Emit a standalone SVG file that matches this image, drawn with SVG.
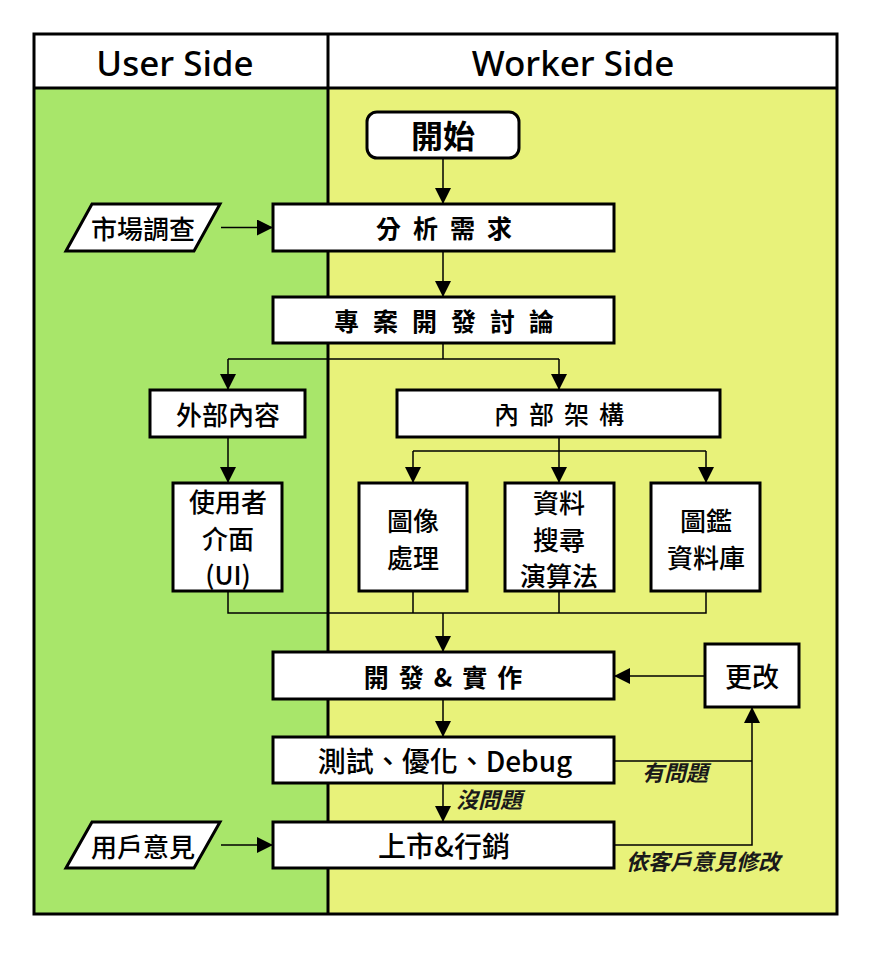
<svg xmlns="http://www.w3.org/2000/svg" width="872" height="960" viewBox="0 0 872 960">
<style>
.box{fill:#fff;stroke:#000;stroke-width:3}
.t{font-family:"Noto Sans CJK TC","Noto Sans",sans-serif;font-weight:500;fill:#000;text-anchor:middle;dominant-baseline:central}
.b{font-weight:700}
.h{font-family:"Noto Sans","Noto Sans CJK TC",sans-serif;font-size:35px;font-weight:500;fill:#000;text-anchor:middle;dominant-baseline:central}
.lbl{font-family:"Noto Sans CJK TC",sans-serif;font-size:22px;font-weight:700;font-style:italic;fill:#1a1a1a;text-anchor:middle}
.c{fill:none;stroke:#000;stroke-width:1.5}
</style>
<defs>
<marker id="ah" markerUnits="userSpaceOnUse" markerWidth="16" markerHeight="16" refX="16" refY="8" orient="auto">
<path d="M0,0 L16,8 L0,16 z" fill="#000"/>
</marker>
</defs>
<rect x="0" y="0" width="872" height="960" fill="#fff"/>
<g id="lanes">
<rect x="34" y="34" width="803" height="54" fill="#fff"/>
<rect x="34" y="88" width="294" height="826" fill="#a8e66a"/>
<rect x="328" y="88" width="509" height="826" fill="#e8f27a"/>
<rect x="34" y="34" width="803" height="880" fill="none" stroke="#000" stroke-width="3"/>
<line x1="34" y1="88" x2="837" y2="88" stroke="#000" stroke-width="3"/>
<line x1="328" y1="34" x2="328" y2="914" stroke="#000" stroke-width="3"/>
<text class="h" x="175" y="62">User Side</text>
<text class="h" x="573" y="62">Worker Side</text>
</g>
<g id="connectors">
<path class="c" d="M443 158 V204" marker-end="url(#ah)"/>
<path class="c" d="M221 227.5 H273" marker-end="url(#ah)"/>
<path class="c" d="M443 251 V297" marker-end="url(#ah)"/>
<path class="c" d="M443 343 V359"/>
<path class="c" d="M228 359 H559"/>
<path class="c" d="M228 359 V390" marker-end="url(#ah)"/>
<path class="c" d="M559 359 V390" marker-end="url(#ah)"/>
<path class="c" d="M228 437 V483" marker-end="url(#ah)"/>
<path class="c" d="M559 437 V483" marker-end="url(#ah)"/>
<path class="c" d="M413 451 H706"/>
<path class="c" d="M413 451 V483" marker-end="url(#ah)"/>
<path class="c" d="M706 451 V483" marker-end="url(#ah)"/>
<path class="c" d="M228 591 V613 H706 V591"/>
<path class="c" d="M413 591 V613"/>
<path class="c" d="M559 591 V613"/>
<path class="c" d="M443 613 V652" marker-end="url(#ah)"/>
<path class="c" d="M705 676 H614" marker-end="url(#ah)"/>
<path class="c" d="M443 699 V737" marker-end="url(#ah)"/>
<path class="c" d="M443 783 V822" marker-end="url(#ah)"/>
<path class="c" d="M614 761 H752"/>
<path class="c" d="M614 845 H752 V707" marker-end="url(#ah)"/>
<path class="c" d="M221 845 H273" marker-end="url(#ah)"/>
<text class="lbl" x="675" y="781">有問題</text>
<text class="lbl" x="489" y="808">沒問題</text>
<text class="lbl" x="703" y="870">依客戶意見修改</text>
</g>
<g id="start">
<rect class="box" x="367" y="112" width="152" height="46" rx="10"/>
<text class="t b" x="443" y="134" font-size="32">開始</text>
</g>
<g id="market">
<polygon class="box" points="66,251 92,204 220,204 194,251"/>
<text class="t" x="143" y="227" font-size="26">市場調查</text>
</g>
<g id="analyze">
<rect class="box" x="273" y="204" width="341" height="47"/>
<text class="t b" x="450" y="227" font-size="25" letter-spacing="12">分析需求</text>
</g>
<g id="discuss">
<rect class="box" x="273" y="297" width="341" height="46"/>
<text class="t b" x="451" y="320" font-size="25" letter-spacing="14">專案開發討論</text>
</g>
<g id="external">
<rect class="box" x="150" y="390" width="155" height="47"/>
<text class="t" x="228" y="413" font-size="26">外部內容</text>
</g>
<g id="internal">
<rect class="box" x="397" y="390" width="323" height="47"/>
<text class="t" x="564" y="413" font-size="25" letter-spacing="10">內部架構</text>
</g>
<g id="ui">
<rect class="box" x="173" y="483" width="109" height="108"/>
<text class="t" x="228" y="500" font-size="26">使用者</text>
<text class="t" x="228" y="537" font-size="26">介面</text>
<text class="t" x="228" y="573" font-size="26">(UI)</text>
</g>
<g id="image">
<rect class="box" x="359" y="483" width="108" height="108"/>
<text class="t" x="413" y="519" font-size="26">圖像</text>
<text class="t" x="413" y="556" font-size="26">處理</text>
</g>
<g id="search">
<rect class="box" x="505" y="483" width="109" height="108"/>
<text class="t" x="559" y="501" font-size="26">資料</text>
<text class="t" x="559" y="538" font-size="26">搜尋</text>
<text class="t" x="559" y="574" font-size="26">演算法</text>
</g>
<g id="database">
<rect class="box" x="651" y="483" width="109" height="108"/>
<text class="t" x="706" y="519" font-size="26">圖鑑</text>
<text class="t" x="706" y="556" font-size="26">資料庫</text>
</g>
<g id="develop">
<rect class="box" x="273" y="652" width="341" height="47"/>
<text class="t b" x="448" y="676" font-size="25" letter-spacing="10">開發&amp;實作</text>
</g>
<g id="change">
<rect class="box" x="705" y="644" width="94" height="63"/>
<text class="t" x="752" y="675" font-size="27">更改</text>
</g>
<g id="test">
<rect class="box" x="273" y="737" width="341" height="46"/>
<text class="t" x="445" y="760" font-size="28">測試、優化、Debug</text>
</g>
<g id="feedback">
<polygon class="box" points="66,868 92,822 220,822 194,868"/>
<text class="t" x="143" y="845" font-size="26">用戶意見</text>
</g>
<g id="launch">
<rect class="box" x="273" y="822" width="341" height="46"/>
<text class="t" x="444" y="845" font-size="28">上市&amp;行銷</text>
</g>
</svg>
